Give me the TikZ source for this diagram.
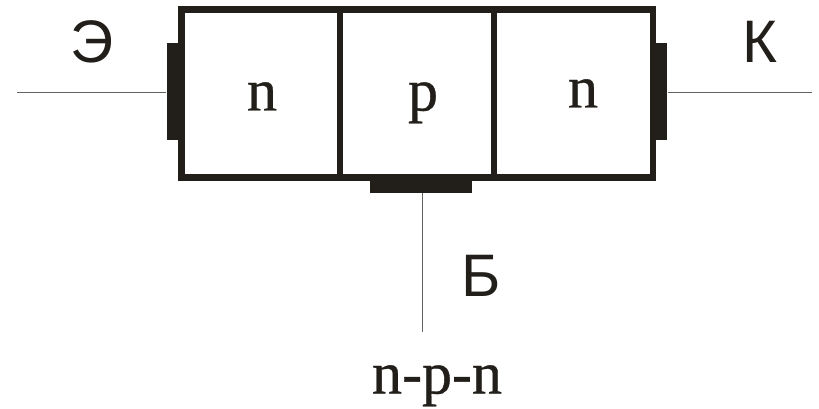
\documentclass[tikz,border=0pt]{standalone}
\usepackage{fontspec}
\setmainfont[RawFeature={embolden=0.6}]{Liberation Serif}
\newfontfamily\lab{Liberation Sans}
\definecolor{ink}{HTML}{221F1A}
\begin{document}
\begin{tikzpicture}[x=1pt,y=-1pt,
 cell/.style={draw=ink,line width=6.6pt,inner sep=0pt},
 contact/.style={fill=ink,draw=none,inner sep=0pt},
 wire/.style={draw=ink!70,line width=1.2pt},
 sem/.style={font=\fontsize{60}{60}\selectfont,text=ink,inner sep=0pt,anchor=base},
 term/.style={font=\lab\fontsize{60}{60}\selectfont,text=ink,inner sep=0pt,anchor=base}]
\useasboundingbox (0,0) rectangle (819,409);
\node[cell,minimum width=158.5pt,minimum height=167.9pt] (L) at (260.75,93.75) {};
\node[cell,minimum width=154pt,minimum height=167.9pt] (M) at (417,93.75) {};
\node[cell,minimum width=159pt,minimum height=167.9pt] (R) at (573.5,93.75) {};
\node[contact,minimum width=15pt,minimum height=96.7pt] (E) at (174,91.7) {};
\node[contact,minimum width=14.6pt,minimum height=96.7pt] (C) at (660,91.7) {};
\node[contact,minimum width=102.3pt,minimum height=15pt] (B) at (421.2,185.2) {};
\coordinate (e) at (17,92.3);
\coordinate (c) at (812.3,92.3);
\coordinate (b) at (422.7,331.7);
\draw[wire] (e) -- (E.west |- e);
\draw[wire] (C.east |- c) -- (c);
\draw[wire] (B.south -| b) -- (b);
\node[sem] (n1) at (262,110.5) {n};
\node[sem] (p) at (423,110.5) {p};
\node[sem] (n2) at (583,107.5) {n};
\node[term] (te) at (92,63) {Э};
\node[term] (tk) at (760,63) {К};
\node[term] (tb) at (481,296) {Б};
\node[sem] (t) at (437,393.5) {n-p-n};
\end{tikzpicture}
\end{document}
